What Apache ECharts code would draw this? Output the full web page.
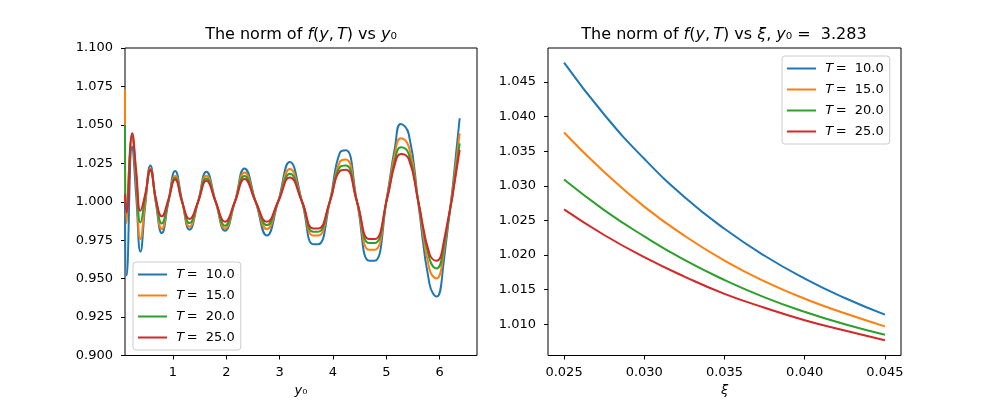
<!DOCTYPE html>
<html>
<head>
<meta charset="utf-8">
<script src="https://cdn.jsdelivr.net/npm/echarts@6/dist/echarts.min.js"></script>
<style>
    html, body { margin: 0; padding: 0; background: #fff; }
    #main { width: 1000px; height: 400px; }
</style>
</head>
<body>
<div id="main"></div>
<script>
    var FONT = 'DejaVu Sans';
    var COLORS = ['#1f77b4', '#ff7f0e', '#2ca02c', '#d62728'];
    var NAMES = ['T = 10.0', 'T = 15.0', 'T = 20.0', 'T = 25.0'];

    // left panel: norm vs y0
    var Y0 = [0.10, 0.13, 0.235, 0.31, 0.39, 0.48, 0.575, 0.68, 0.79, 0.91,
              1.04, 1.17, 1.31, 1.47, 1.625, 1.80, 1.975, 2.16, 2.34, 2.55,
              2.76, 2.97, 3.19, 3.42, 3.63, 3.72, 3.94, 4.13, 4.24, 4.45,
              4.68, 4.78, 5.02, 5.16, 5.27, 5.42, 5.60, 5.81, 5.94, 6.075, 6.375];
    var NORM_T10 = [1.000, 0.952, 1.036, 1.004, 0.9676, 0.998, 1.0235, 0.999, 0.9796, 0.999,
                    1.0200, 1.001, 0.9818, 1.000, 1.0195, 1.000, 0.9811, 1.000, 1.0217, 1.000,
                    0.9780, 1.000, 1.0258, 1.000, 0.9724, 0.9724, 1.000, 1.0320, 1.0335, 1.000,
                    0.9616, 0.9616, 1.005, 1.035, 1.0506, 1.0441, 0.999, 0.9464, 0.9383, 0.9605, 1.0543];
    var NORM_T15 = [1.073, 0.986, 1.042, 1.012, 0.9757, 1.000, 1.0215, 1.000, 0.9822, 1.000,
                    1.0168, 1.000, 0.9837, 1.000, 1.0169, 1.000, 0.9826, 1.000, 1.0190, 1.000,
                    0.9822, 1.000, 1.0213, 1.000, 0.9780, 0.9780, 1.000, 1.0260, 1.0275, 1.000,
                    0.9687, 0.9687, 1.004, 1.031, 1.0413, 1.0360, 1.000, 0.9560, 0.9501, 0.9670, 1.0445];
    var NORM_T20 = [1.050, 0.993, 1.043, 1.017, 0.9865, 1.003, 1.0200, 1.001, 0.9859, 1.000,
                    1.0155, 1.000, 0.9861, 1.000, 1.0152, 1.000, 0.9844, 1.000, 1.0168, 1.000,
                    0.9848, 1.000, 1.0182, 1.000, 0.9805, 0.9805, 1.000, 1.0225, 1.0235, 1.000,
                    0.9731, 0.9731, 1.003, 1.027, 1.0354, 1.0311, 1.000, 0.9627, 0.9566, 0.9700, 1.0380];
    var NORM_T25 = [1.005, 0.993, 1.0445, 1.020, 0.9941, 1.005, 1.0210, 1.002, 0.9905, 1.001,
                    1.0145, 1.000, 0.9887, 1.000, 1.0137, 1.000, 0.9870, 1.000, 1.0148, 1.000,
                    0.9870, 1.000, 1.0158, 1.000, 0.9826, 0.9826, 1.000, 1.0200, 1.0208, 1.000,
                    0.9757, 0.9757, 1.003, 1.0245, 1.0311, 1.0278, 1.000, 0.9660, 0.9616, 0.9735, 1.0337];
    var Y0_TICKS = [1, 2, 3, 4, 5, 6];

    // right panel: norm vs xi at y0 = 3.283
    var XI = [0.025, 0.0275, 0.030, 0.0325, 0.035, 0.0375, 0.040, 0.0425, 0.045];
    var XI_T10 = [1.0478, 1.0403, 1.0339, 1.0284, 1.0238, 1.0199, 1.0166, 1.0138, 1.0114];
    var XI_T15 = [1.0377, 1.0320, 1.0270, 1.0228, 1.0192, 1.0162, 1.0137, 1.0116, 1.0097];
    var XI_T20 = [1.0309, 1.0265, 1.0227, 1.0193, 1.0164, 1.0139, 1.0118, 1.0100, 1.0085];
    var XI_T25 = [1.0266, 1.0229, 1.0197, 1.0169, 1.0144, 1.0124, 1.0106, 1.0091, 1.0077];
    var XI_TICKS = [0.025, 0.030, 0.035, 0.040, 0.045];
    var XI_YTICKS = [1.010, 1.015, 1.020, 1.025, 1.030, 1.035, 1.040, 1.045];

    function pairs(xs, ys) {
        return xs.map(function (x, i) { return [x, ys[i]]; });
    }

    var rich = {
        it: { fontStyle: 'italic', fontFamily: FONT, fontSize: 16, color: '#000' }
    };
    var richSmall = {
        it: { fontStyle: 'italic', fontFamily: FONT, fontSize: 13, color: '#000' },
        n: { fontFamily: FONT, fontSize: 13, color: '#000' }
    };

    function axisX(idx, min, max, ticks, name, fmt) {
        return {
            type: 'value', gridIndex: idx, min: min, max: max,
            name: name, nameLocation: 'middle', nameGap: 27,
            nameTextStyle: { fontFamily: FONT, fontSize: 13, color: '#000', rich: richSmall },
            axisLine: { show: false },
            axisTick: { show: true, length: 4, customValues: ticks, lineStyle: { color: '#000', width: 1 } },
            axisLabel: { customValues: ticks, margin: 11, fontFamily: FONT, fontSize: 13, color: '#000', formatter: fmt },
            splitLine: { show: false }
        };
    }

    function axisY(idx, min, max, extra) {
        var a = {
            type: 'value', gridIndex: idx, min: min, max: max,
            axisLine: { show: false },
            axisTick: { show: true, length: 4, lineStyle: { color: '#000', width: 1 } },
            axisLabel: { margin: 12, fontFamily: FONT, fontSize: 13, color: '#000',
                         formatter: function (v) { return v.toFixed(3); } },
            splitLine: { show: false }
        };
        for (var k in extra) a[k] = extra[k];
        return a;
    }

    function legend(left, top) {
        return {
            data: NAMES, orient: 'vertical', left: left, top: top,
            padding: [5, 6, 5, 5], itemGap: 6, itemWidth: 29, itemHeight: 2,
            icon: 'rect',
            backgroundColor: 'rgba(255,255,255,0.8)', borderColor: '#cccccc',
            borderWidth: 1, borderRadius: 3,
            textStyle: { fontFamily: FONT, fontSize: 13, lineHeight: 15, color: '#000', rich: richSmall },
            formatter: function (name) {
                return ' {it|T}{n|\u2009=  ' + name.split('= ')[1] + '}';
            }
        };
    }

    var leftSets = [NORM_T10, NORM_T15, NORM_T20, NORM_T25];
    var rightSets = [XI_T10, XI_T15, XI_T20, XI_T25];
    var series = [];
    leftSets.forEach(function (ys, i) {
        series.push({
            name: NAMES[i], type: 'line', xAxisIndex: 0, yAxisIndex: 0,
            data: pairs(Y0, ys), symbol: 'none', smooth: 0.5, clip: true,
            lineStyle: { color: COLORS[i], width: 2 }, itemStyle: { color: COLORS[i] }
        });
    });
    rightSets.forEach(function (ys, i) {
        series.push({
            name: NAMES[i], type: 'line', xAxisIndex: 1, yAxisIndex: 1,
            data: pairs(XI, ys), symbol: 'none', smooth: 0.5, clip: true,
            lineStyle: { color: COLORS[i], width: 2 }, itemStyle: { color: COLORS[i] }
        });
    });

    var chart = echarts.init(document.getElementById('main'), null, { renderer: 'canvas' });
    chart.setOption({
        backgroundColor: '#fff',
        animation: false,
        title: [
            {
                text: 'The norm of {it|f}({it|y},\u2009{it|T}) vs {it|y}\u2080',
                left: 301, top: 27, textAlign: 'center', padding: 0,
                textStyle: { fontFamily: FONT, fontSize: 16, fontWeight: 'normal', color: '#000', rich: rich }
            },
            {
                text: 'The norm of {it|f}({it|y},\u2009{it|T}) vs {it|\u03be}, {it|y}\u2080 =  3.283',
                left: 724, top: 27, textAlign: 'center', padding: 0,
                textStyle: { fontFamily: FONT, fontSize: 16, fontWeight: 'normal', color: '#000', rich: rich }
            }
        ],
        legend: [legend(133, 262), legend(782, 56)],
        grid: [
            { left: 125, top: 48, width: 352, height: 307.5, outerBoundsMode: 'none',
              show: true, borderColor: '#000', borderWidth: 1, backgroundColor: 'transparent' },
            { left: 548, top: 48, width: 353, height: 307.5, outerBoundsMode: 'none',
              show: true, borderColor: '#000', borderWidth: 1, backgroundColor: 'transparent' }
        ],
        xAxis: [
            axisX(0, 0.1, 6.7, Y0_TICKS, '{it|y}\u2080', function (v) { return String(v); }),
            axisX(1, 0.024, 0.046, XI_TICKS, '{it|\u03be}', function (v) { return v.toFixed(3); })
        ],
        yAxis: [
            axisY(0, 0.9, 1.1, { interval: 0.025 }),
            axisY(1, 1.0055, 1.0499, {
                axisTick: { show: true, length: 4, customValues: XI_YTICKS, lineStyle: { color: '#000', width: 1 } },
                axisLabel: { customValues: XI_YTICKS, margin: 12, fontFamily: FONT, fontSize: 13, color: '#000',
                             formatter: function (v) { return v.toFixed(3); } }
            })
        ],
        series: series
    });
</script>
</body>
</html>
